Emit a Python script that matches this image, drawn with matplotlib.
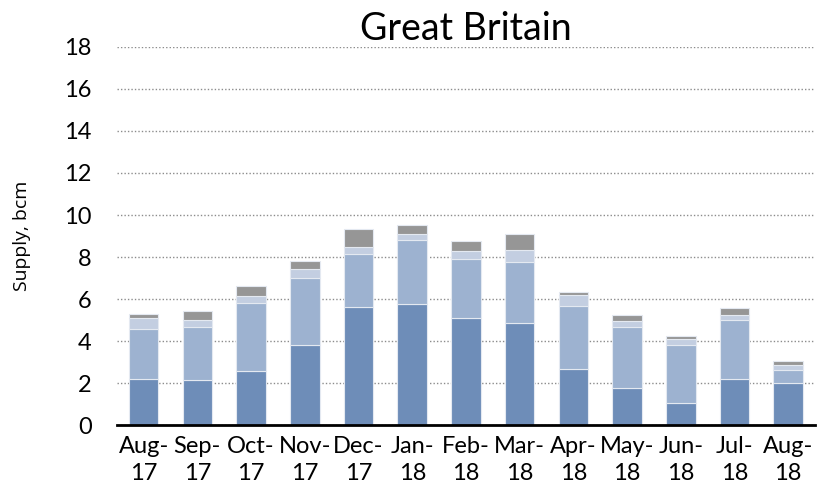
import numpy as np
import matplotlib.pyplot as plt

months = ["Aug-\n17", "Sep-\n17", "Oct-\n17", "Nov-\n17", "Dec-\n17", "Jan-\n18", "Feb-\n18",
          "Mar-\n18", "Apr-\n18", "May-\n18", "Jun-\n18", "Jul-\n18", "Aug-\n18"]

# stacked segments, bcm
seg1 = [2.18, 2.13, 2.59, 3.79, 5.63, 5.78, 5.08, 4.87, 2.65, 1.75, 1.03, 2.21, 2.02]
seg2 = [2.41, 2.52, 3.24, 3.23, 2.51, 3.05, 2.84, 2.91, 3.03, 2.93, 2.80, 2.81, 0.61]
seg3 = [0.52, 0.35, 0.31, 0.39, 0.32, 0.27, 0.37, 0.54, 0.51, 0.29, 0.25, 0.22, 0.24]
seg4 = [0.16, 0.43, 0.46, 0.42, 0.89, 0.41, 0.46, 0.78, 0.16, 0.27, 0.16, 0.33, 0.18]

colors = ["#6e8db8", "#9db2d0", "#c3cee1", "#969696"]

plt.rcParams['font.family'] = ['Lato', 'DejaVu Sans']

fig = plt.figure(figsize=(8.17, 4.86), dpi=100)
ax = fig.add_axes([0.143, 0.1255, 0.8546, 0.7778])

x = np.arange(len(months))
bottom = np.zeros(len(months))
for vals, c in zip([seg1, seg2, seg3, seg4], colors):
    ax.bar(x, vals, 0.55, bottom=bottom, color=c, edgecolor="#e4e9f1", linewidth=0.8, zorder=3)
    bottom += np.array(vals)

ax.set_xlim(-0.5, len(months) - 0.5)
ax.set_ylim(0, 18)
ax.set_yticks(range(0, 19, 2))
ax.set_xticks(x)
ax.set_xticklabels(months, fontsize=17, linespacing=1.35)
ax.tick_params(axis='y', length=0, pad=18, labelsize=17)
ax.tick_params(axis='x', length=0, pad=8)

ax.grid(axis='y', color="#8c8c8c", linestyle=(0, (1, 1.5)), linewidth=1.0, zorder=0)
for s in ["top", "right", "left"]:
    ax.spines[s].set_visible(False)
ax.spines["bottom"].set_linewidth(2)
ax.spines["bottom"].set_zorder(4)

ax.set_ylabel("Supply, bcm", fontsize=14, family=['Open Sans', 'DejaVu Sans'], labelpad=24)
ax.set_title("Great Britain", fontsize=27, pad=2)

fig.savefig("out.png", dpi=100)
